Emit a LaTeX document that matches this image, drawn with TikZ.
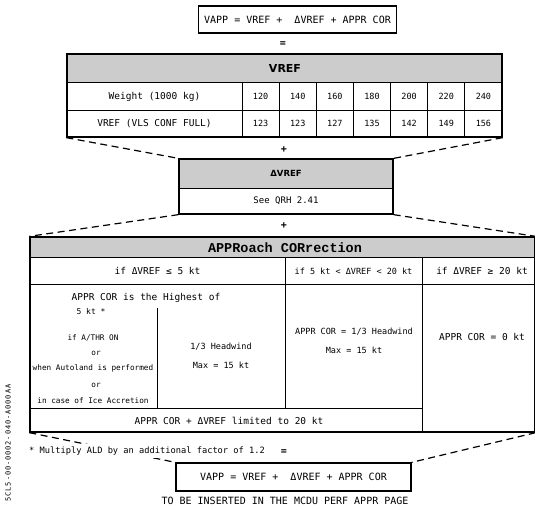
\documentclass[tikz,border=0pt]{standalone}
\usepackage{fontspec}
\setmainfont{DejaVu Sans Mono}
\newfontfamily\headfont{DejaVu Sans}
\newfontfamily\courfont{Liberation Mono}
\newfontfamily\idfont[LetterSpace=13]{DejaVu Sans Mono}
\usetikzlibrary{calc}

\begin{document}
\begin{tikzpicture}[x=1pt, y=-1pt,
  frame/.style={draw, line width=1.3pt, inner sep=0pt, rectangle},
  rule/.style={line width=0.9pt},
  shade/.style={fill=black!20},
  link/.style={dash pattern=on 7pt off 4.5pt, line width=1.2pt},
  txt/.style={inner sep=0pt, font=\fontsize{9.5}{11}\selectfont},
  small/.style={inner sep=0pt, font=\fontsize{7.7}{9}\selectfont},
  mid/.style={inner sep=0pt, font=\fontsize{8.5}{10}\selectfont},
  hdr/.style={inner sep=0pt, font=\headfont\bfseries\fontsize{11}{13}\selectfont},
]
\useasboundingbox (0,0) rectangle (535,509);

% ---- formula at the top
\node[frame, minimum width=198pt, minimum height=27pt,
      font=\fontsize{10}{12}\selectfont] (top) at (297.5,19.5)
      {VAPP = VREF + \ ΔVREF + APPR COR};
\node[txt, font=\bfseries\fontsize{10}{12}\selectfont] (eq1) at (283,44) {=};

% ---- VREF table
\fill[shade] (67,54) rectangle (502,82);
\node[frame, minimum width=435pt, minimum height=83pt] (vref) at (284.5,95.5) {};
\draw[rule] (67,82) -- (502,82) (67,110) -- (502,110);
\foreach \i in {0,...,6} {
  \draw[rule] ({242+\i*37.143},82) -- ({242+\i*37.143},137);
}
\node[hdr] (vrefh) at (285,68.5) {VREF};
\node[txt] (wlab) at (154.5,96.5) {Weight (1000 kg)};
\node[txt] (vlab) at (154.5,123.5) {VREF (VLS CONF FULL)};
\foreach \w [count=\i from 0] in {120,140,160,180,200,220,240} {
  \node[txt, font=\fontsize{8.5}{10}\selectfont] (w\i) at ({242+(\i+0.5)*37.143},96.5) {\w};
}
\foreach \v [count=\i from 0] in {123,123,127,135,142,149,156} {
  \node[txt, font=\fontsize{8.5}{10}\selectfont] (v\i) at ({242+(\i+0.5)*37.143},123.5) {\v};
}
\node[txt, font=\bfseries\fontsize{10}{12}\selectfont] (plus1) at (284,150) {+};

% ---- delta VREF box
\fill[shade] (179,159) rectangle (393,188);
\node[frame, minimum width=214pt, minimum height=55pt] (dv) at (286,186.5) {};
\draw[rule] (179,188) -- (393,188);
\node[hdr, font=\headfont\bfseries\fontsize{8.5}{10}\selectfont] (dvh) at (286,173.5) {ΔVREF};
\node[txt, font=\fontsize{9}{11}\selectfont] (qrh) at (286,201) {See QRH 2.41};
\node[txt, font=\bfseries\fontsize{10}{12}\selectfont] (plus2) at (284,226) {+};

% ---- approach correction table
\fill[shade] (30,237) rectangle (535,257);
\node[frame, minimum width=505pt, minimum height=195pt] (apc) at (282.5,334.5) {};
\draw[rule] (30,257) -- (535,257) (30,284) -- (535,284);
\draw[rule] (285,257) -- (285,408) (422,257) -- (422,432);
\draw[rule] (157,308) -- (157,408) (30,408) -- (422,408);
\node[inner sep=0pt, font=\courfont\bfseries\fontsize{13.5}{15}\selectfont] (apch) at (285,247.5) {APPRoach CORrection};
\node[txt] (c1) at (157.5,271) {if ΔVREF ≤ 5 kt};
\node[mid] (c2) at (353.5,271) {if 5 kt < ΔVREF < 20 kt};
\node[txt] (c3) at (482,271) {if ΔVREF ≥ 20 kt};
\node[txt] (hi) at (146,298) {APPR COR is the Highest of};
\node[small, font=\fontsize{8}{9}\selectfont] (fivekt) at (91,312) {5 kt *};
\node[small] (l1) at (93,338) {if A/THR ON};
\node[small] (l2) at (96,353) {or};
\node[small] (l3) at (93,368) {when Autoland is performed};
\node[small] (l4) at (96,385) {or};
\node[small] (l5) at (93,401) {in case of Ice Accretion};
\node[mid] (hw1) at (221,347) {1/3 Headwind};
\node[mid] (hw2) at (221,365) {Max = 15 kt};
\node[mid] (m1) at (354,332) {APPR COR = 1/3 Headwind};
\node[mid] (m2) at (354,350) {Max = 15 kt};
\node[txt] (r1) at (482,337) {APPR COR = 0 kt};
\node[txt] (lim) at (229,421) {APPR COR + ΔVREF limited to 20 kt};

% ---- final formula box
\node[frame, minimum width=235pt, minimum height=28pt,
      font=\fontsize{10}{12}\selectfont] (vb) at (293.5,477)
      {VAPP = VREF + \ ΔVREF + APPR COR};

% ---- dashed funnels between the blocks
\draw[link] (vref.south west) -- (dv.north west);
\draw[link] (vref.south east) -- (dv.north east);
\draw[link] (dv.south west) -- (apc.north west);
\draw[link] (dv.south east) -- (apc.north east);
\draw[link] (apc.south west) -- (vb.north west);
\draw[link] (apc.south east) -- (vb.north east);

% ---- footnote (masks the dashed line behind it)
\node[fill=white, inner xsep=1pt, inner ysep=3pt, anchor=west,
      font=\fontsize{8.7}{10}\selectfont] (note) at (28,451)
      {* Multiply ALD by an additional factor of 1.2};
\node[txt, font=\bfseries\fontsize{10}{12}\selectfont] (eq2) at (284,452) {=};

\node[txt, font=\fontsize{10}{12}\selectfont] (cap) at (285,501)
      {TO BE INSERTED IN THE MCDU PERF APPR PAGE};

% ---- drawing reference number
\node[inner sep=0pt, rotate=90, font=\idfont\fontsize{7}{8}\selectfont] (ref) at (8,443)
      {5CL5-00-0002-040-A000AA};
\end{tikzpicture}
\end{document}
